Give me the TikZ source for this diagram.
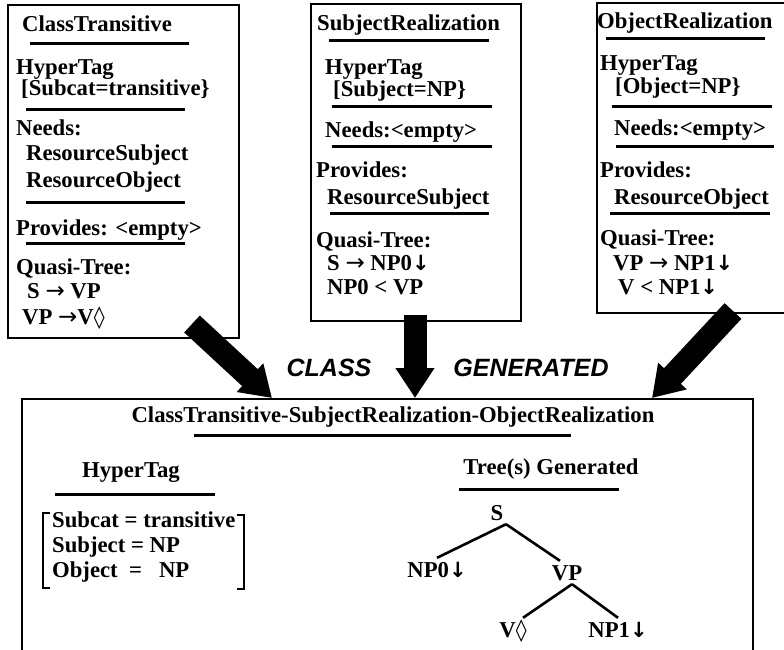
\documentclass[tikz,border=0pt]{standalone}
\usepackage{fontspec}
\setmainfont{Liberation Serif}
\newfontfamily\labelfont{Liberation Sans}
\newfontfamily\glyphfont{DejaVu Sans}
\newcommand{\toarr}{{\glyphfont\mdseries\fontsize{23}{27}\selectfont →}}
\newcommand{\downarr}{{\glyphfont\fontsize{21}{27}\selectfont ↓}}
\newcommand{\lozen}{{\glyphfont\mdseries\fontsize{22}{27}\selectfont ◊}}
\usetikzlibrary{arrows.meta,positioning}

\begin{document}
\begin{tikzpicture}[x=1pt,y=-1pt]
\tikzstyle{every node}=[inner sep=0pt,font=\fontsize{22.7}{27}\selectfont\bfseries]
\tikzstyle{txt}=[anchor=base west]
\tikzstyle{ctr}=[anchor=base]
\tikzstyle{leaf}=[anchor=base,inner sep=4pt,text height=15pt,text depth=0pt]
\tikzstyle{frame}=[line width=1.8pt]
\tikzstyle{sep}=[line width=3pt]
\tikzstyle{branch}=[line width=2.6pt]
\tikzstyle{fat}=[line width=23pt,-{Triangle[width=37pt,length=30pt]}]
\tikzstyle{big}=[font=\labelfont\fontsize{25}{30}\selectfont\bfseries\itshape]

\useasboundingbox (0,0) rectangle (784,649);

% ClassTransitive
\draw[frame] (8,5) rectangle (239,338);
\node[txt] (ct) at (22,31) {ClassTransitive};
\draw[sep] (30,43) -- (189,43);
\node[txt] (cth) at (16,74) {HyperTag};
\node[txt] (cthv) at (21,95) {[Subcat=transitive\}};
\draw[sep] (26,109) -- (185,109);
\node[txt] (ctn) at (16,135) {Needs:};
\node[txt] (ctn1) at (26,160) {ResourceSubject};
\node[txt] (ctn2) at (26,187) {ResourceObject};
\draw[sep] (26,202) -- (185,202);
\node[txt] (ctp) at (16,235) {Provides: <empty>};
\draw[sep] (26,243) -- (185,243);
\node[txt] (ctq) at (16,274) {Quasi-Tree:};
\node[txt] (ctq1) at (27,298) {S \toarr\ VP};
\node[txt] (ctq2) at (22,324) {VP \toarr V\lozen};

% SubjectRealization
\draw[frame] (311,4) rectangle (521,321);
\node[txt] (sr) at (317,30) {SubjectRealization};
\draw[sep] (329,40) -- (489,40);
\node[txt] (srh) at (325,74) {HyperTag};
\node[txt] (srhv) at (333,96) {[Subject=NP\}};
\draw[sep] (332,106) -- (492,106);
\node[txt] (srn) at (325,137) {Needs:<empty>};
\draw[sep] (332,146) -- (492,146);
\node[txt] (srp) at (316,177) {Provides:};
\node[txt] (srp1) at (327,204) {ResourceSubject};
\draw[sep] (330,213) -- (489,213);
\node[txt] (srq) at (316,247) {Quasi-Tree:};
\node[txt] (srq1) at (327,270) {S \toarr\ NP0\downarr};
\node[txt] (srq2) at (327,294) {NP0 < VP};

% ObjectRealization
\draw[frame] (597,3) rectangle (800,313);
\node[txt] (or) at (597,28) {ObjectRealization};
\draw[sep] (606,38) -- (765,38);
\node[txt] (orh) at (600,70) {HyperTag};
\node[txt] (orhv) at (615,93) {[Object=NP\}};
\draw[sep] (612,106) -- (772,106);
\node[txt] (orn) at (614,135) {Needs:<empty>};
\draw[sep] (616,146) -- (774,146);
\node[txt] (orp) at (600,177) {Provides:};
\node[txt] (orp1) at (614,204) {ResourceObject};
\draw[sep] (610,213) -- (770,213);
\node[txt] (orq) at (600,245) {Quasi-Tree:};
\node[txt] (orq1) at (613,270) {VP \toarr\ NP1\downarr};
\node[txt] (orq2) at (618,294) {V < NP1\downarr};

% generation arrows
\coordinate (a1) at (192,324);
\coordinate (b1) at (272,398);
\coordinate (a2) at (415,315);
\coordinate (b2) at (415,398);
\coordinate (a3) at (733,311);
\coordinate (b3) at (652,398);
\draw[fat] (a1) -- (b1);
\draw[fat] (a2) -- (b2);
\draw[fat] (a3) -- (b3);
\node[big,ctr] (cls) at (329,376) {CLASS};
\node[big,ctr] (gen) at (531,376) {GENERATED};

% result
\draw[frame] (22,399) rectangle (753,660);
\node[ctr] (res) at (393,422) {ClassTransitive-SubjectRealization-ObjectRealization};
\draw[sep] (194,435) -- (571,435);
\node[ctr] (rh) at (131,477) {HyperTag};
\draw[sep] (55,494) -- (215,494);
\draw[frame] (50,513) -- (43,513) -- (43,588) -- (50,588);
\draw[frame] (237,515) -- (244,515) -- (244,589) -- (237,589);
\node[txt] (rh1) at (52,527) {Subcat = transitive};
\node[txt] (rh2) at (52,552) {Subject = NP};
\node[txt] (rh3) at (52,577) {Object\ \ =\ \ \ NP};
\node[ctr] (rt) at (551,474) {Tree(s) Generated};
\draw[sep] (459,489) -- (619,489);

% tree
\node[leaf] (s) at (497,520) {S};
\node[leaf] (np0) at (437,577) {NP0\downarr};
\node[leaf] (vp) at (567,580) {VP};
\node[leaf] (v) at (513,637) {V\lozen};
\node[leaf] (np1) at (618,637) {NP1\downarr};
\draw[branch] ([xshift=9pt]s.south) -- (np0.north);
\draw[branch] ([xshift=9pt]s.south) -- ([xshift=-7pt]vp.north);
\draw[branch] ([xshift=5pt]vp.south) -- ([xshift=10pt]v.north);
\draw[branch] ([xshift=5pt]vp.south) -- (np1.north);
\end{tikzpicture}
\end{document}
